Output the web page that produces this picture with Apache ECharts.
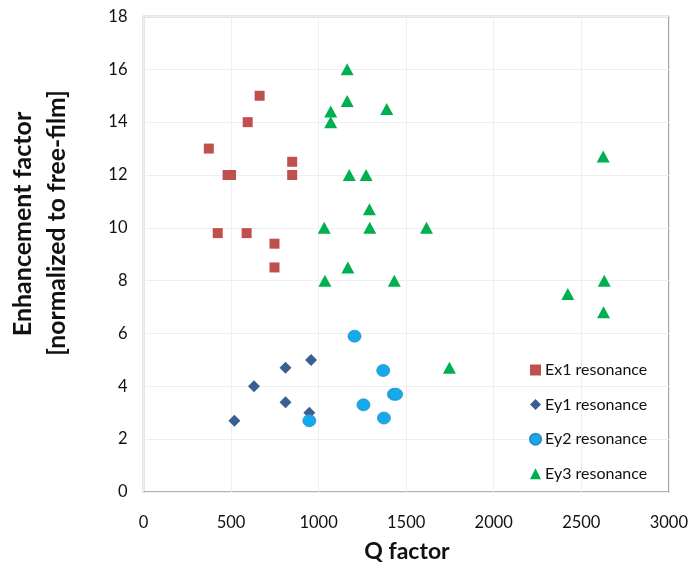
<!DOCTYPE html>
<html>
<head>
<meta charset="utf-8">
<script src="https://cdn.jsdelivr.net/npm/echarts@6/dist/echarts.min.js"></script>
<style>
  html, body { margin: 0; padding: 0; background: #fff; }
  #chart { width: 691px; height: 571px; }
</style>
</head>
<body>
<div id="chart"></div>
<script>
// Q factor / enhancement factor pairs for each resonance
const ex1Q = [663, 595, 373, 480, 500, 849, 849, 424, 589, 748, 748];
const ex1E = [15.0, 14.0, 13.0, 12.0, 12.0, 12.5, 12.0, 9.8, 9.8, 9.4, 8.5];

const ey1Q = [957, 811, 631, 811, 947, 519];
const ey1E = [5.0, 4.7, 4.0, 3.4, 3.0, 2.7];

const ey2Q = [1205, 1369, 1430, 1442, 1256, 1373, 947];
const ey2E = [5.9, 4.6, 3.7, 3.7, 3.3, 2.8, 2.7];

const ey3Q = [1163, 1163, 1069, 1069, 1389, 1175, 1271, 1290, 1032, 1292, 1616,
              1167, 1036, 1432, 2625, 2631, 2423, 2627, 1747];
const ey3E = [16.0, 14.8, 14.4, 14.0, 14.5, 12.0, 12.0, 10.7, 10.0, 10.0, 10.0,
              8.5, 8.0, 8.0, 12.7, 8.0, 7.5, 6.8, 4.7];

const seriesNames = ['Ex1 resonance', 'Ey1 resonance', 'Ey2 resonance', 'Ey3 resonance'];

const xTicks = { min: 0, max: 3000, interval: 500 };
const yTicks = { min: 0, max: 18, interval: 2 };

const pairs = (xs, ys) => xs.map((x, i) => [x, ys[i]]);

const FONT = 'Lato, "Open Sans", sans-serif';

const chart = echarts.init(document.getElementById('chart'), null, { renderer: 'canvas' });

chart.setOption({
  animation: false,
  backgroundColor: '#ffffff',
  grid: {
    left: 143.5, right: 19.5, top: 16.5, bottom: 79,
    show: true, borderColor: '#9a9a9a', borderWidth: 1.5, backgroundColor: 'transparent'
  },
  xAxis: {
    type: 'value',
    min: xTicks.min, max: xTicks.max, interval: xTicks.interval,
    axisLine: { show: false },
    axisTick: { show: false },
    splitLine: { show: true, lineStyle: { color: '#efefef', width: 1 } },
    axisLabel: { color: '#111', fontSize: 16.5, fontFamily: FONT, margin: 22,
                 formatter: (v) => String(v) }
  },
  yAxis: {
    type: 'value',
    min: yTicks.min, max: yTicks.max, interval: yTicks.interval,
    axisLine: { show: false },
    axisTick: { show: false },
    splitLine: { show: true, lineStyle: { color: '#efefef', width: 1 } },
    axisLabel: { color: '#111', fontSize: 16.5, fontFamily: FONT, margin: 16 }
  },
  legend: {
    orient: 'vertical',
    left: 524, top: 357,
    itemGap: 18.6,
    itemWidth: 11, itemHeight: 11,
    textStyle: { fontSize: 16, color: '#111', fontFamily: FONT, padding: [0, 0, 0, -1] },
    data: [
      { name: seriesNames[0], icon: 'rect' },
      { name: seriesNames[1], icon: 'diamond' },
      { name: seriesNames[2], icon: 'circle' },
      { name: seriesNames[3], icon: 'triangle' }
    ]
  },
  graphic: [
    {
      type: 'text', x: 407, y: 552,
      style: { text: 'Q factor', font: 'bold 23px ' + FONT, fill: '#111',
               align: 'center', verticalAlign: 'middle' }
    },
    {
      type: 'text', x: 23, y: 224, rotation: Math.PI / 2,
      style: { text: 'Enhancement factor', font: 'bold 25px ' + FONT, fill: '#111',
               align: 'center', verticalAlign: 'middle' }
    },
    {
      type: 'text', x: 57, y: 223, rotation: Math.PI / 2,
      style: { text: '[normalized to free-film]', font: 'bold 24.7px ' + FONT, fill: '#111',
               align: 'center', verticalAlign: 'middle' }
    }
  ],
  series: [
    {
      name: seriesNames[0], type: 'scatter', symbol: 'rect', symbolSize: 10,
      itemStyle: { color: '#C0504D', opacity: 1 },
      data: pairs(ex1Q, ex1E)
    },
    {
      name: seriesNames[1], type: 'scatter', symbol: 'diamond', symbolSize: 12,
      itemStyle: { color: '#3A6092', opacity: 1 },
      data: pairs(ey1Q, ey1E)
    },
    {
      name: seriesNames[2], type: 'scatter', symbol: 'circle', symbolSize: [13, 12],
      itemStyle: { color: '#14AAEB', borderColor: '#2C8FC4', borderWidth: 0.8, opacity: 1 },
      data: pairs(ey2Q, ey2E)
    },
    {
      name: seriesNames[3], type: 'scatter', symbol: 'triangle', symbolSize: [13, 12],
      itemStyle: { color: '#00B050', opacity: 1 },
      data: pairs(ey3Q, ey3E)
    }
  ]
});
</script>
</body>
</html>
